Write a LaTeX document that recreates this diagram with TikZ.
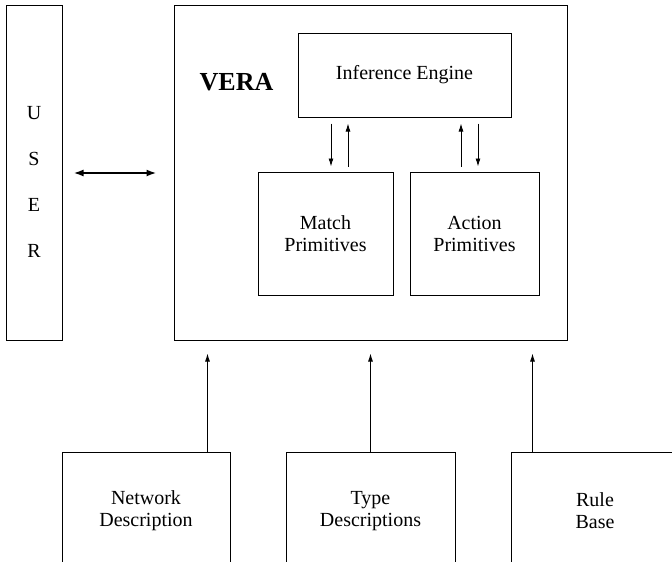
\documentclass[tikz,border=0pt]{standalone}
\usepackage{fontspec}
\setmainfont{Liberation Serif}
\usetikzlibrary{arrows.meta}

\begin{document}
\begin{tikzpicture}[x=1pt, y=-1pt,
  box/.style={draw, line width=1pt, inner sep=0pt, align=center,
    font=\fontsize{20}{22}\selectfont},
  arr/.style={-{Latex[length=8pt,width=5pt]}, line width=0.9pt}]
\useasboundingbox (0,0) rectangle (672,562);
\clip (0,0) rectangle (672,562);

\node[box, minimum width=56pt, minimum height=335pt] (user) at (34,172.5) {};
\node[font=\fontsize{20}{46}\selectfont, align=center] (usertxt) at (34,182) {U\\S\\E\\R};

\node[box, minimum width=393pt, minimum height=335pt] (vera) at (370.5,172.5) {};
\node[font=\fontsize{26}{28}\selectfont\bfseries] (veratxt) at (236.5,82) {VERA};

\node[box, minimum width=213pt, minimum height=84pt] (engine) at (404.5,75) {Inference Engine};
\node[box, minimum width=135pt, minimum height=123pt] (match) at (325.5,233.5) {Match\\Primitives};
\node[box, minimum width=129pt, minimum height=123pt] (action) at (474.5,233.5) {Action\\Primitives};

\node[box, minimum width=168pt, minimum height=118pt] (net) at (146,511) {Network\\Description};
\node[box, minimum width=169pt, minimum height=118pt] (types) at (370.5,511) {Type\\Descriptions};
\node[box, minimum width=168pt, minimum height=118pt] (rules) at (595,511) {Rule\\Base};

\draw[{Latex[length=10pt,width=7pt]}-{Latex[length=10pt,width=7pt]}, line width=1.8pt,
  shorten <=11pt, shorten >=17pt] (user.east |- 0,173) -- (vera.west |- 0,173);

\draw[arr, shorten <=6pt, shorten >=5pt] ([xshift=5.5pt]match.north |- engine.south) -- ([xshift=5.5pt]match.north);
\draw[arr, shorten <=5pt, shorten >=6pt] ([xshift=22.5pt]match.north) -- ([xshift=22.5pt]match.north |- engine.south);
\draw[arr, shorten <=5pt, shorten >=6pt] ([xshift=-13.5pt]action.north) -- ([xshift=-13.5pt]action.north |- engine.south);
\draw[arr, shorten <=6pt, shorten >=5pt] ([xshift=3.5pt]action.north |- engine.south) -- ([xshift=3.5pt]action.north);

\draw[arr, shorten >=13pt] ([xshift=-23pt]net.north east) -- ([xshift=-23pt]net.north east |- vera.south);
\draw[arr, shorten >=13pt] (types.north) -- (types.north |- vera.south);
\draw[arr, shorten >=13pt] ([xshift=22pt]rules.north west) -- ([xshift=22pt]rules.north west |- vera.south);
\end{tikzpicture}
\end{document}
